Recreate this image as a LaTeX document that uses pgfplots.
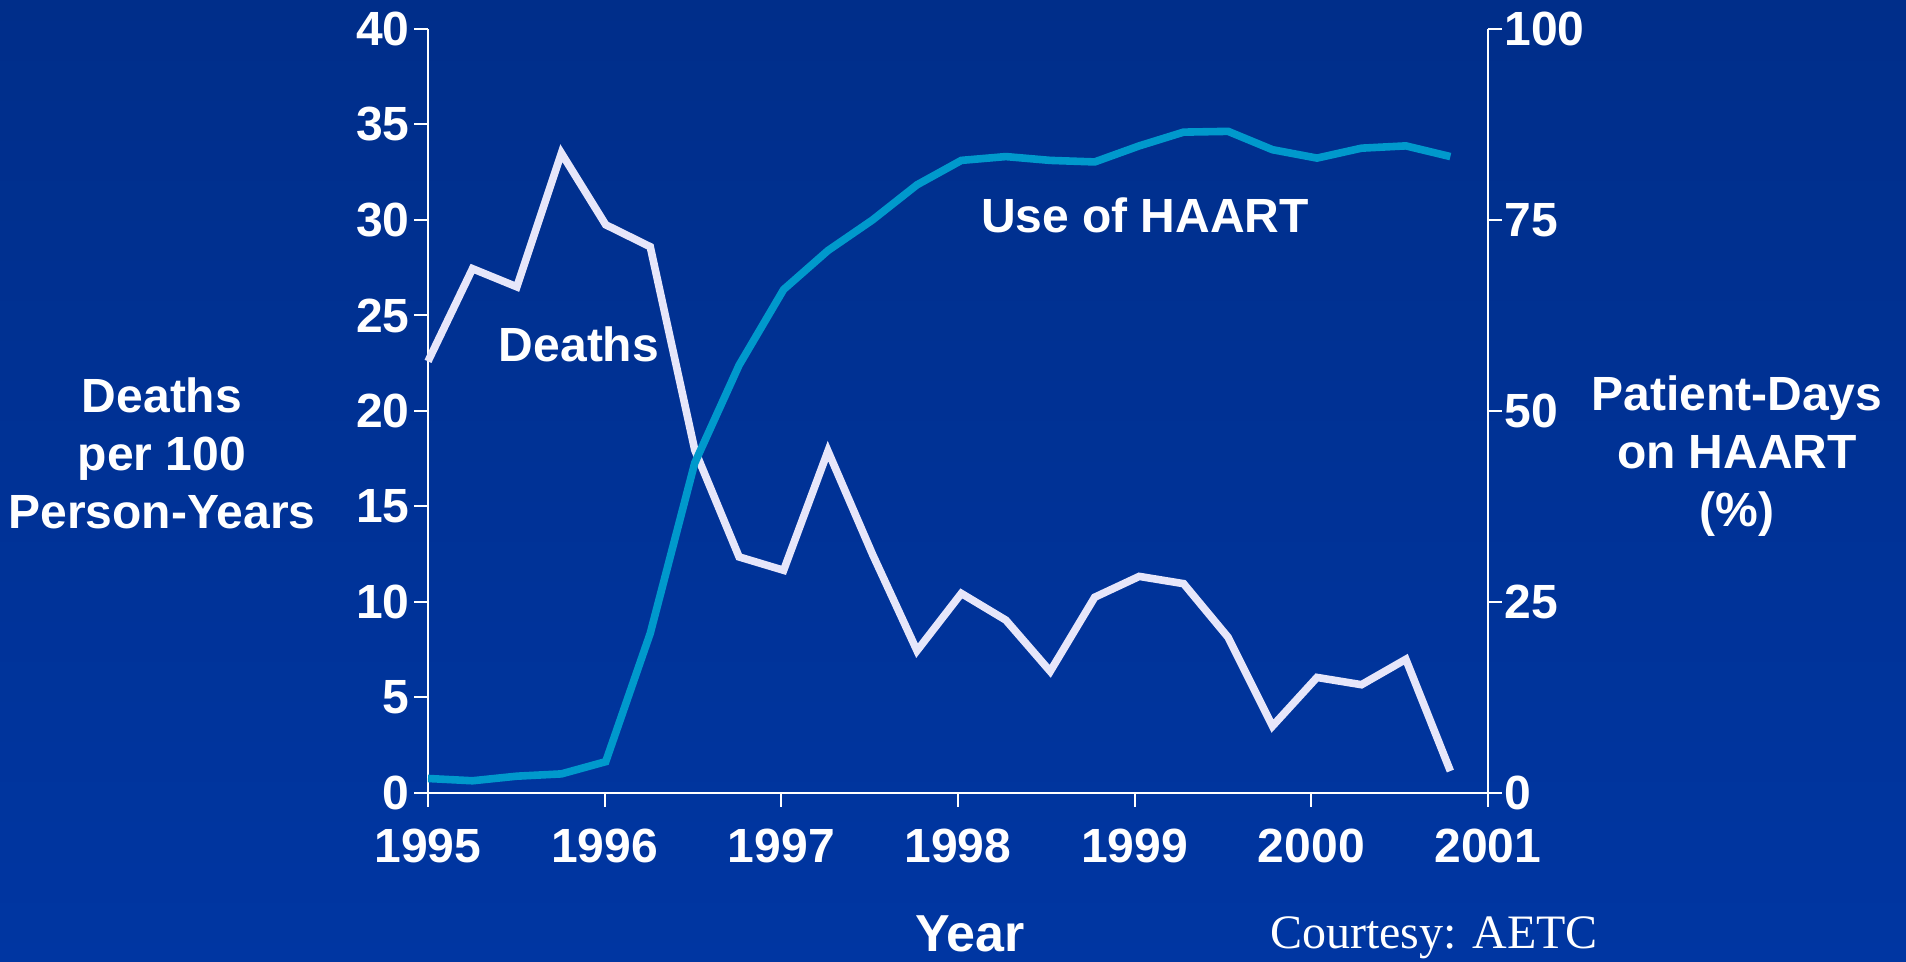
\documentclass[border=0pt]{standalone}
\usepackage{fontspec}
\setmainfont{Liberation Sans}
\newfontfamily\seriffont{Liberation Serif}
\usepackage{pgfplots}
\pgfplotsset{compat=1.18}
\definecolor{bgtop}{HTML}{002E8A}
\definecolor{bgbot}{HTML}{0036A2}
\definecolor{deathc}{HTML}{E6E6FA}
\definecolor{haartc}{HTML}{0099CC}
\begin{document}
\begin{tikzpicture}
\shade[top color=bgtop, bottom color=bgbot] (-214pt,-84.5pt) rectangle (739pt,396.5pt);
\path[use as bounding box] (-214pt,-84.5pt) rectangle (739pt,396.5pt);
\begin{axis}[
  at={(0,0)}, anchor=south west,
  scale only axis, width=530pt, height=382pt,
  xmin=1995, xmax=2001, ymin=0, ymax=40,
  axis y line*=left, axis x line*=bottom,
  axis line style={white, line width=1pt, -},
  xtick={1995,1996,...,2001}, ytick={0,5,...,40},
  tick align=outside, major tick length=7pt,
  tick style={white, line width=1pt},
  /pgf/number format/1000 sep={},
  /pgf/number format/assume math mode=true,
  ticklabel style={font=\fontsize{24}{28}\selectfont\bfseries, text=white, inner sep=0pt},
  xticklabel style={anchor=north, yshift=-11pt},
  yticklabel style={anchor=east, xshift=-2pt},
  clip=false,
]
\addplot[deathc, line width=3.8pt] coordinates {
(1995.000,22.6) (1995.252,27.45) (1995.503,26.5) (1995.755,33.5) (1996.006,29.75) (1996.258,28.6)
(1996.510,17.96) (1996.761,12.36) (1997.013,11.66) (1997.264,17.9) (1997.516,12.5) (1997.768,7.45)
(1998.019,10.45) (1998.271,9.05) (1998.522,6.37) (1998.774,10.25) (1999.026,11.34) (1999.277,10.96)
(1999.529,8.15) (1999.780,3.5) (2000.032,6.05) (2000.284,5.67) (2000.535,7.0) (2000.787,1.15)
};
\end{axis}
\begin{axis}[
  at={(0,0)}, anchor=south west,
  scale only axis, width=530pt, height=382pt,
  xmin=1995, xmax=2001, ymin=0, ymax=100,
  axis y line*=right, axis x line=none,
  axis line style={white, line width=1pt, -},
  ytick={0,25,...,100},
  tick align=outside, major tick length=7pt,
  tick style={white, line width=1pt},
  /pgf/number format/assume math mode=true,
  ticklabel style={font=\fontsize{24}{28}\selectfont\bfseries, text=white, inner sep=0pt},
  yticklabel style={anchor=west, xshift=1pt},
  clip=false,
]
\addplot[haartc, line width=3.8pt] coordinates {
(1995.000,1.9) (1995.252,1.6) (1995.503,2.2) (1995.755,2.5) (1996.006,4.1) (1996.258,20.9)
(1996.510,43.2) (1996.761,56) (1997.013,65.9) (1997.264,71) (1997.516,75) (1997.768,79.6)
(1998.019,82.8) (1998.271,83.3) (1998.522,82.8) (1998.774,82.6) (1999.026,84.7) (1999.277,86.5)
(1999.529,86.6) (1999.780,84.2) (2000.032,83.1) (2000.284,84.4) (2000.535,84.7) (2000.787,83.3)
};
\end{axis}
\begin{scope}[every node/.style={text=white, font=\fontsize{24}{29}\selectfont\bfseries, align=center}]
\node at (-133pt,170pt) {Deaths\\per 100\\Person-Years};
\node at (654.5pt,168.5pt) {Patient-Days\\on HAART\\(\%)};
\node at (75.5pt,224.5pt) {Deaths};
\node at (358.5pt,289pt) {Use of HAART};
\node[font=\fontsize{26}{30}\selectfont\bfseries] at (271pt,-70.5pt) {Year};
\node[font=\fontsize{24}{28}\selectfont\seriffont] at (503pt,-72.5pt) {Courtesy: AETC};
\end{scope}
\end{tikzpicture}
\end{document}
